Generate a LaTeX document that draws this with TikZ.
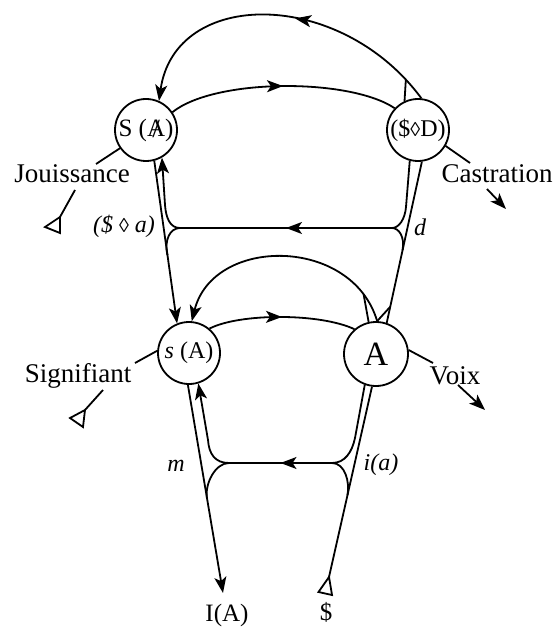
\documentclass[tikz,border=0pt]{standalone}
\usepackage{fontspec}
\setmainfont{Liberation Serif}
\usetikzlibrary{arrows.meta,decorations.markings,calc}
\newcommand{\Abarred}{{\ooalign{A\cr\hidewidth\raisebox{-0.05em}{\scalebox{1.1}[1.05]{/}}\hidewidth\cr}}}
\newcommand{\smalloz}{{\fontsize{20}{20}\selectfont ◊}}
\begin{document}
\begin{tikzpicture}[x=1pt,y=-1pt,line width=1.8pt,
  circ/.style={circle,draw,minimum size=62pt,inner sep=0pt,font=\fontsize{25}{27}\selectfont},
  lbl/.style={font=\fontsize{27}{30}\selectfont,inner sep=0pt,anchor=base},
  ilbl/.style={font=\fontsize{24}{26}\selectfont\itshape,inner sep=0pt,anchor=base},
  blbl/.style={font=\fontsize{25}{27}\selectfont,inner sep=0pt,anchor=base},
  arrowend/.style={-{Stealth[length=16pt,width=12pt,inset=4pt]}},
  midarr/.style={postaction={decorate},decoration={markings,mark=at position #1 with {\arrow{Stealth[length=16pt,width=12pt,inset=4pt]}}}},
  midarr/.default=0.5]
\useasboundingbox[fill=white] (0,0) rectangle (553,628);

% circles
\node[circ] (SA) at (146,130) {S (\Abarred)};
\node[circ,font=\fontsize{24}{26}\selectfont] (SD) at (418,130) {(\$\smalloz D)};
\node[circ,font=\fontsize{24}{26}\selectfont] (sA) at (189,353) {\textit{s} (A)};
\node[circ,minimum size=64pt,font=\fontsize{34}{36}\selectfont] (A) at (376,354) {A};

% labels
\node[lbl] (jou) at (72,183) {Jouissance};
\node[lbl] (cas) at (497,183) {Castration};
\node[lbl] (sig) at (78,382) {Signifiant};
\node[lbl] (voix) at (455,384) {Voix};
\node[ilbl] (sda) at (124,232) {(\$ \smalloz\ a)};
\node[ilbl] (dl) at (420,235) {d};
\node[ilbl] (ml) at (176,471) {m};
\node[ilbl] (ial) at (381,470) {i(a)};
\node[blbl] (IA) at (227,621) {I(A)};
\node[blbl] (dollar) at (326,620) {\$};

% junctions and free ends
\coordinate (JL1) at (180,228);
\coordinate (JR1) at (392,228);
\coordinate (JL2) at (229,463);
\coordinate (JR2) at (332,463);
\coordinate (IAtip) at (223,593);
\coordinate (Sb) at (329,577);
\coordinate (j1) at (96,164);
\coordinate (j2) at (75,190);
\coordinate (jt) at (60,217);
\coordinate (c1) at (470,163);
\coordinate (c2) at (487,189);
\coordinate (c3) at (506,209);
\coordinate (s1) at (135,363);
\coordinate (s2) at (103,390);
\coordinate (st) at (85,410);
\coordinate (v1) at (433,363);
\coordinate (v2) at (458,385);
\coordinate (v3) at (485,410);

% top arcs
\draw[arrowend,midarr=0.46] (SD.84) .. controls (340,-12) and (175,-12) .. (SA.66) coordinate[pos=0.06] (spA);
\draw[midarr] (SA.34) .. controls (215,78) and (350,78) .. (SD.137);
\draw (SD.115) -- (spA);

% upper level
\draw[arrowend] (SA.-75) -- (sA.112);
\draw[midarr] (JR1) -- (JL1);
\draw[arrowend] (JL1) .. controls (170,228) and (166,218) .. (165,205) -- (SA.-60);
\draw (JL1) .. controls (170,228) and (164,240) .. ($(SA.-75)!0.58!(sA.112)$);
\draw (SD.-83) -- (A.71);
\draw (JR1) .. controls (399,228) and (405,219) .. (406,207) -- (SD.-105);
\draw (JR1) .. controls (399,228) and (405,237) .. ($(SD.-83)!0.55!(A.71)$);

% middle arcs
\draw[arrowend] (A.88) .. controls (352,236) and (213,236) .. (sA.85) coordinate[pos=0.12] (ia1);
\draw[midarr] (sA.50) .. controls (240,313) and (320,313) .. (A.131);
\draw (A.103) -- (ia1);
\draw (A.88) -- ($(SD.-83)!0.9!(A.71)$);

% lower level
\draw[arrowend] (sA.-92) -- (IAtip);
\draw[midarr] (JR2) -- (JL2);
\draw[arrowend] (JL2) .. controls (215,463) and (209,454) .. (208,440) -- (sA.-73);
\draw (JL2) .. controls (215,463) and (205,484) .. ($(sA.-92)!0.54!(IAtip)$);
\draw (A.-97) -- (Sb);
\draw (JR2) .. controls (345,463) and (352,452) .. (355,438) -- (A.-110);
\draw (JR2) .. controls (345,463) and (350,482) .. ($(A.-97)!0.57!(Sb)$);
\draw (Sb) -- (318.5,592) -- (332,595) -- cycle;

% side vectors
\draw (SA.-145) -- (j1);
\draw (j2) -- (jt);
\draw (jt) -- (45,227) -- (60,233) -- cycle;
\draw (SD.-30) -- (c1);
\draw[arrowend] (c2) -- (c3);
\draw (sA.176) -- (s1);
\draw (s2) -- (st);
\draw (st) -- (70,418) -- (83,427) -- cycle;
\draw (A.7) -- (v1);
\draw[arrowend] (v2) -- (v3);
\end{tikzpicture}
\end{document}
